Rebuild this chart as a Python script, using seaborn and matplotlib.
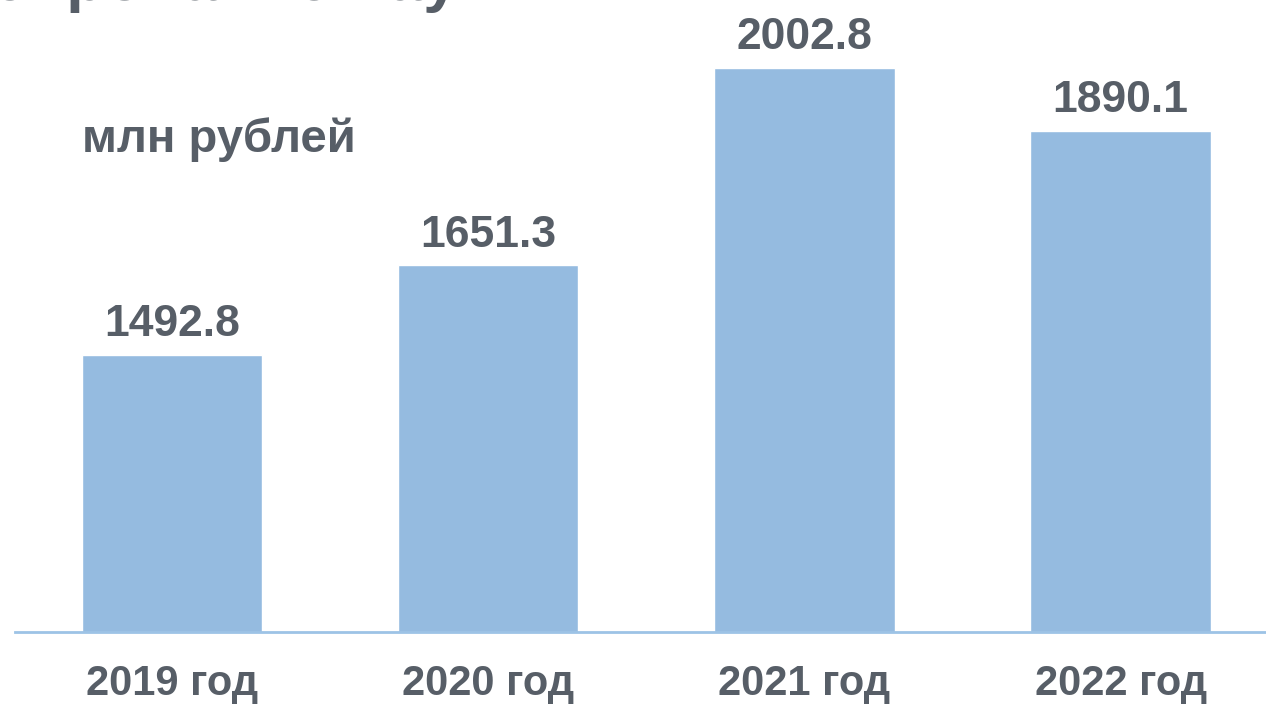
import matplotlib
matplotlib.use("Agg")
import matplotlib.pyplot as plt
import seaborn as sns
import pandas as pd

years = ["2019 год", "2020 год", "2021 год", "2022 год"]
values = [1492.8, 1651.3, 2002.8, 1890.1]
value_labels = ["1492.8", "1651.3", "2002.8", "1890.1"]
unit_label = "млн рублей"
title_text = "Финансирование науки"

bar_color = "#95bbe0"
text_color = "#575e67"

sns.set_theme(style="white")
plt.rcParams["font.family"] = ["Liberation Sans", "DejaVu Sans"]

df = pd.DataFrame({"year": years, "value": values})

fig = plt.figure(figsize=(12.66, 7.06), dpi=100)
ax = fig.add_axes([15 / 1266, 1 - 632 / 706, 1 - 15 / 1266, 632 / 706])

sns.barplot(data=df, x="year", y="value", color=bar_color, width=0.57,
            saturation=1, ax=ax)

ax.set_ylim(1000, 2123)
ax.set_xlim(-0.497, 3.46)

for i, v in enumerate(values):
    ax.annotate(value_labels[i], (i, v), xytext=(0, 7), textcoords="offset points",
                ha="center", va="bottom", fontsize=32, fontweight="bold",
                color=text_color)

for s in ["top", "right", "left"]:
    ax.spines[s].set_visible(False)
ax.spines["bottom"].set_color("#9dc3e6")
ax.spines["bottom"].set_linewidth(2)
ax.set_yticks([])
ax.set_xlabel("")
ax.set_ylabel("")
ax.tick_params(axis="x", length=0, pad=23)
for lab in ax.get_xticklabels():
    lab.set_fontsize(30)
    lab.set_fontweight("bold")
    lab.set_color(text_color)

fig.text(82 / 1266, 1 - 140 / 706, unit_label, fontsize=34, fontweight="bold",
         color=text_color, ha="left", va="center")

# title cut off at top edge, only the bottom of the letters shows
fig.text(530 / 1266, 1.0, title_text, fontsize=46, fontweight="bold",
         color=text_color, ha="right", va="baseline")

fig.savefig("out.png", dpi=100)
